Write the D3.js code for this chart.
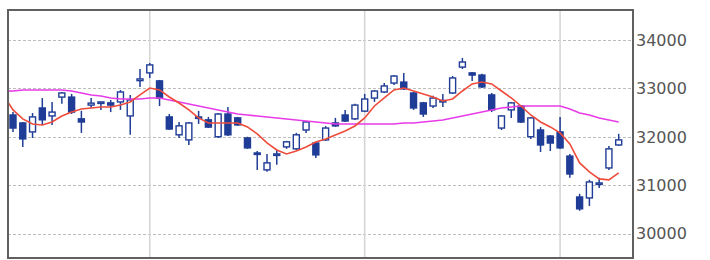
<!DOCTYPE html>
<html><head><meta charset="utf-8">
<script src="https://cdn.jsdelivr.net/npm/d3@7"></script>
<style>html,body{margin:0;padding:0;background:#fff;}svg{display:block;}</style>
</head><body>
<svg id="c" width="710" height="260"></svg>
<script>
// candle data (index 0..62)
const opens  = [32450,32285,32100,32595,32430,32820,32820,32370,32655,32700,32700,32720,32430,33160,33320,33155,32410,32040,31935,32390,32350,32000,32470,32390,31975,31665,31315,31625,31790,31750,32140,31870,31935,32285,32450,32370,32530,32800,32925,33110,33130,32905,32700,32635,32720,32905,33440,33320,33275,32865,32180,32555,32635,32000,32140,32015,32100,31600,30755,30735,31025,31355,31830];
const highs  = [32510,32305,32490,32800,32720,32925,32885,32535,32800,32720,32760,32965,32865,33400,33525,33175,32470,32305,32305,32535,32410,32490,32615,32410,32000,31705,31645,31730,31915,32080,32325,31895,32220,32390,32555,32680,32885,32965,33110,33275,33320,32925,32720,32845,32885,33255,33630,33340,33300,32905,32450,32720,32657,32410,32200,32037,32410,31645,30820,31110,31150,31810,32060];
const lows   = [32100,31790,31975,32245,32245,32680,32470,32080,32595,32555,32510,32555,32040,33030,33215,32635,32140,31975,31830,32265,32180,31975,32015,32225,31750,31315,31275,31420,31750,31730,32080,31560,31915,32205,32305,32345,32510,32720,32905,33070,32965,32555,32410,32595,32615,32885,33400,33150,33010,32510,32140,32390,32285,31955,31685,31705,31750,31150,30470,30570,30940,31315,31810];
const closes = [32180,31955,32410,32350,32510,32905,32510,32305,32695,32720,32655,32925,32760,33195,33485,32800,32160,32225,32285,32410,32200,32470,32040,32245,31770,31640,31460,31645,31895,32040,32305,31625,32180,32225,32325,32655,32780,32945,33050,33255,32990,32595,32470,32800,32750,33215,33545,33275,33030,32555,32430,32700,32305,32390,31830,31870,31770,31230,30510,31065,31045,31750,31935];
// moving averages, index -1..62
const maShort = [32864,32554,32368,32265,32244,32306,32430,32512,32574,32595,32616,32616,32657,32719,32864,33008,32967,32822,32698,32554,32389,32285,32285,32285,32285,32203,32058,31872,31727,31645,31707,31789,31893,31955,32037,32120,32223,32389,32636,32802,32967,33008,32946,32884,32822,32740,32781,32946,33091,33132,33091,32946,32802,32636,32450,32306,32203,32079,31851,31459,31273,31129,31108,31252];
const maLong  = [32946,32946,32967,32967,32967,32967,32967,32946,32905,32864,32843,32802,32781,32781,32781,32802,32802,32760,32719,32678,32636,32595,32554,32512,32471,32450,32430,32409,32389,32368,32347,32327,32306,32285,32265,32265,32265,32265,32265,32265,32265,32285,32285,32306,32327,32347,32389,32430,32471,32512,32554,32595,32616,32636,32636,32636,32636,32636,32574,32492,32450,32389,32347,32306];
const yTicks = [30000,31000,32000,33000,34000];
const monthStarts = [14,36,56];

const svg = d3.select('#c');
const L=8, T=10, R=633, B=258;
const x = d3.scaleLinear().domain([0,62]).range([13,618.7]);
const y = d3.scaleLinear().domain([30000,34000]).range([233.5,40]);

svg.append('defs').append('clipPath').attr('id','clip')
  .append('rect').attr('x',L+1).attr('y',T+1).attr('width',R-L-2).attr('height',B-T-2);

// horizontal grid
svg.append('g').selectAll('line').data(yTicks).join('line')
  .attr('x1',L).attr('x2',R).attr('y1',d=>Math.round(y(d))+0.5).attr('y2',d=>Math.round(y(d))+0.5)
  .attr('stroke','#bdbdbd').attr('stroke-width',1).attr('stroke-dasharray','3,2');
// vertical grid
svg.append('g').selectAll('line').data(monthStarts).join('line')
  .attr('x1',d=>x(d)).attr('x2',d=>x(d)).attr('y1',T).attr('y2',B)
  .attr('stroke','#d4d4d4').attr('stroke-width',1.5);

const blue = '#1f3c96';
const data = opens.map((o,i)=>({i,o,h:highs[i],l:lows[i],c:closes[i]}));
const g = svg.append('g').attr('clip-path','url(#clip)');
g.selectAll('line.w').data(data).join('line').attr('class','w')
  .attr('x1',d=>x(d.i)).attr('x2',d=>x(d.i)).attr('y1',d=>y(d.h)).attr('y2',d=>y(d.l))
  .attr('stroke',blue).attr('stroke-width',1.5);
g.selectAll('rect.b').data(data).join('rect').attr('class','b')
  .attr('x',d=>x(d.i)-3).attr('width',6)
  .attr('y',d=>y(Math.max(d.o,d.c)))
  .attr('height',d=>Math.max(1.5,Math.abs(y(d.o)-y(d.c))))
  .attr('fill',d=>d.c>=d.o?'#fff':blue)
  .attr('stroke',blue).attr('stroke-width',1.4);

const line = d3.line().x((d,k)=>x(k-1)).y(d=>y(d));
g.append('path').datum(maLong).attr('d',line).attr('fill','none').attr('stroke','#e83be8').attr('stroke-width',1.6);
g.append('path').datum(maShort).attr('d',line).attr('fill','none').attr('stroke','#ee4b3b').attr('stroke-width',1.6);

// frame
svg.append('rect').attr('x',L).attr('y',T).attr('width',R-L).attr('height',B-T)
  .attr('fill','none').attr('stroke','#606060').attr('stroke-width',2);

// y labels
svg.append('g').selectAll('text').data(yTicks).join('text')
  .attr('x',636).attr('y',d=>y(d)).attr('dy','0.36em')
  .attr('font-family','DejaVu Sans, Verdana, sans-serif').attr('font-size',16)
  .attr('fill','#555').text(d=>d);
</script>
</body></html>
